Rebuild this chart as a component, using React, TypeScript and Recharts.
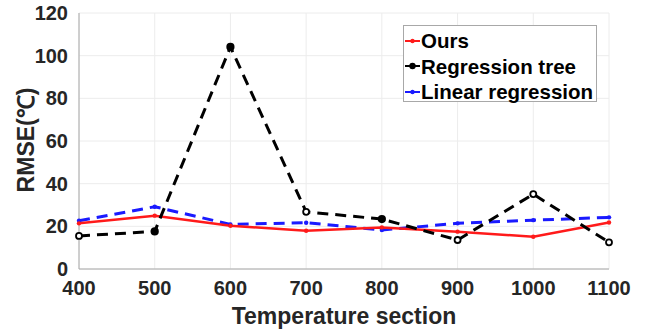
import { LineChart, Line, XAxis, YAxis, CartesianGrid } from 'recharts';

const sections = [400, 500, 600, 700, 800, 900, 1000, 1100];
const ours = [21.4, 25.0, 20.3, 17.9, 19.5, 17.5, 15.1, 21.8];
const regressionTree = [15.5, 17.6, 104.1, 26.8, 23.4, 13.6, 35.1, 12.5];
const linearRegression = [22.6, 29.2, 20.9, 21.7, 18.3, 21.4, 22.9, 24.2];
const yTicks = [0, 20, 40, 60, 80, 100, 120];

const data = sections.map((s, i) => ({
  section: s,
  ours: ours[i],
  tree: regressionTree[i],
  linear: linearRegression[i],
}));

const FONT = '"Liberation Sans", Arial, sans-serif';
const INK = '#262626';
const BOX = '#a8a8a8';

const series = [
  { key: 'ours', name: 'Ours', color: '#ff1a1a' },
  { key: 'tree', name: 'Regression tree', color: '#000000' },
  { key: 'linear', name: 'Linear regression', color: '#1a1aff' },
];

// regression tree markers: some come out filled, some hollow
const treeFilled = [false, true, true, false, true, false, false, false];

const TreeDot = (props: any) => {
  const { cx, cy, index } = props;
  if (cx == null || cy == null) return null;
  return (
    <circle
      key={`t-${index}`}
      cx={cx}
      cy={cy}
      r={treeFilled[index] ? 3.2 : 3}
      fill={treeFilled[index] ? '#000' : '#fff'}
      stroke="#000"
      strokeWidth={1.8}
    />
  );
};

const SmallDot = (color: string) => (props: any) => {
  const { cx, cy, index } = props;
  if (cx == null || cy == null) return null;
  return <circle key={`d-${color}-${index}`} cx={cx} cy={cy} r={2.2} fill={color} />;
};

const YTitle = (props: any) => {
  const vb = props.viewBox;
  const cy = vb.y + vb.height / 2 - 1;
  return (
    <text
      x={26}
      y={cy}
      transform={`rotate(-90, 26, ${cy})`}
      textAnchor="middle"
      dominantBaseline="central"
      fontFamily={FONT}
      fontWeight="bold"
      fontSize={23}
      fill={INK}
    >
      RMSE(℃)
    </text>
  );
};

const LegendBox = () => (
  <div
    style={{
      position: 'absolute',
      left: 403,
      top: 25,
      background: '#fff',
      border: `1px solid ${BOX}`,
      width: 194,
      height: 77,
      boxSizing: 'border-box',
      padding: '2px 0 0 0',
      fontFamily: FONT,
      fontWeight: 'bold',
      fontSize: 20.5,
      color: '#000',
      lineHeight: '25.5px',
    }}
  >
    {series.map((s) => (
      <div key={s.key} style={{ display: 'flex', alignItems: 'center', whiteSpace: 'nowrap' }}>
        <svg width={17} height={10}>
          <line x1={1} y1={5} x2={16} y2={5} stroke={s.color} strokeWidth={2} />
          <circle cx={8.5} cy={5} r={s.key === 'tree' ? 3.2 : 2.2} fill={s.color} />
        </svg>
        <span>{s.name}</span>
      </div>
    ))}
  </div>
);

export default function App() {
  return (
    <div style={{ position: 'absolute', left: 0, top: 0, width: 648, height: 334, background: '#fff' }}>
      <LineChart
        width={648}
        height={334}
        data={data}
        margin={{ top: 13, right: 39, left: 0, bottom: 0 }}
      >
        <CartesianGrid stroke="#ececec" strokeWidth={1} verticalValues={sections} horizontalValues={yTicks} />
        <XAxis
          dataKey="section"
          type="number"
          domain={[400, 1100]}
          ticks={sections}
          height={65}
          stroke={BOX}
          tickLine={false}
          tickMargin={6}
          tick={{ fill: INK, fontFamily: FONT, fontWeight: 'bold', fontSize: 20 }}
          label={{
            value: 'Temperature section',
            position: 'insideBottom',
            offset: 10,
            fill: INK,
            fontFamily: FONT,
            fontWeight: 'bold',
            fontSize: 23,
          }}
        />
        <XAxis xAxisId="top" orientation="top" dataKey="section" type="number" domain={[400, 1100]} height={0} tick={false} tickLine={false} stroke={BOX} />
        <YAxis
          domain={[0, 120]}
          ticks={yTicks}
          width={79}
          stroke={BOX}
          tickLine={false}
          tickMargin={5}
          interval={0}
          tick={{ fill: INK, fontFamily: FONT, fontWeight: 'bold', fontSize: 20 }}
          label={<YTitle />}
        />
        <YAxis yAxisId="right" orientation="right" domain={[0, 120]} width={0} tick={false} tickLine={false} stroke={BOX} />
        <Line
          dataKey="linear"
          name="Linear regression"
          stroke="#1a1aff"
          strokeWidth={3}
          strokeDasharray="11 7"
          dot={SmallDot('#1a1aff')}
          activeDot={false}
          isAnimationActive={false}
        />
        <Line
          dataKey="ours"
          name="Ours"
          stroke="#ff1a1a"
          strokeWidth={2.5}
          dot={SmallDot('#ff1a1a')}
          activeDot={false}
          isAnimationActive={false}
        />
        <Line
          dataKey="tree"
          name="Regression tree"
          stroke="#000"
          strokeWidth={3}
          strokeDasharray="11 7"
          dot={TreeDot}
          activeDot={false}
          isAnimationActive={false}
        />
      </LineChart>
      <LegendBox />
    </div>
  );
}
